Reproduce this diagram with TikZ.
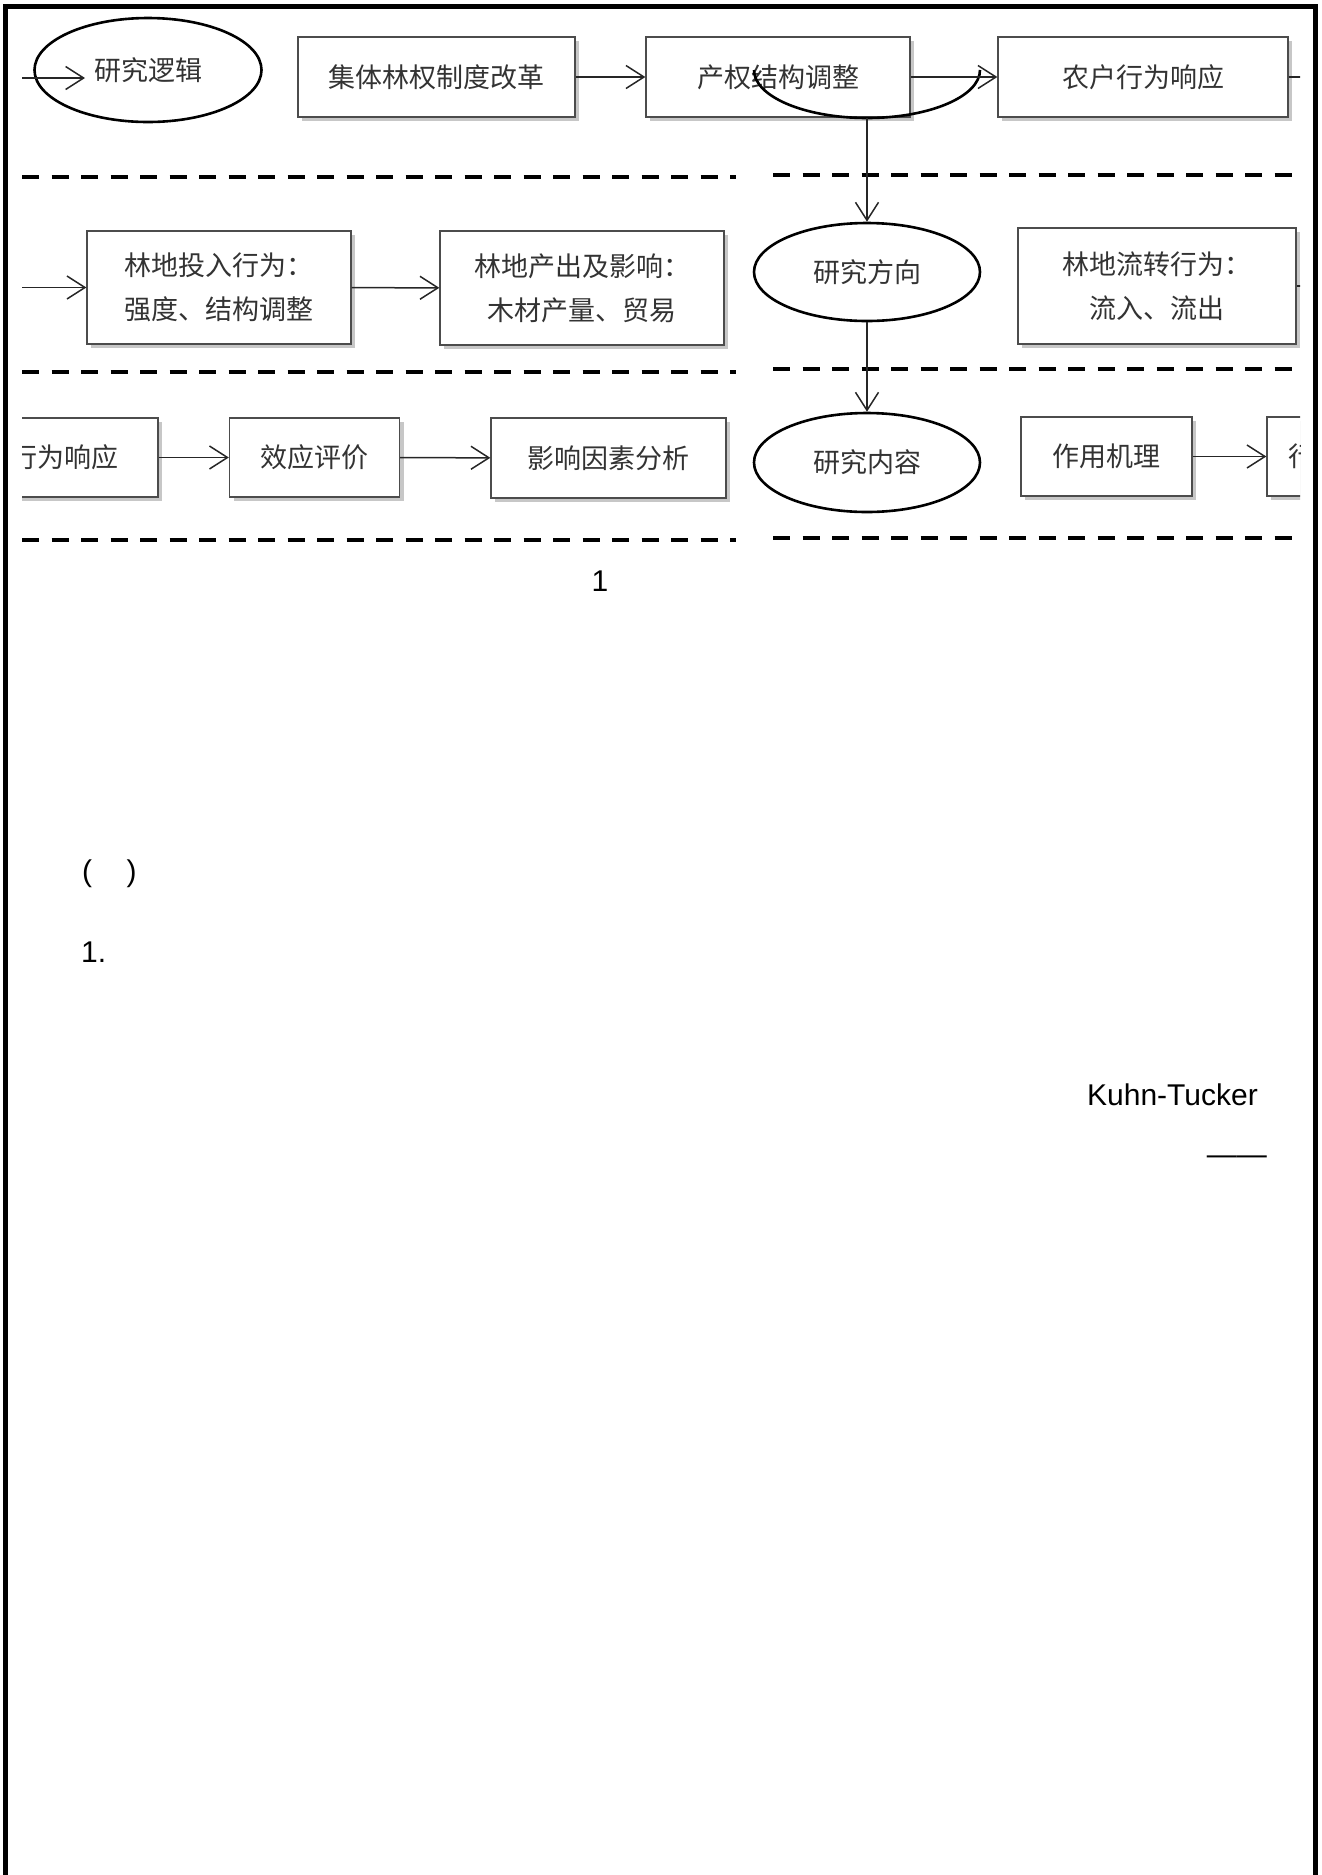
\documentclass[tikz,border=0pt]{standalone}
\usepackage{fontspec}
\setmainfont{Liberation Sans}
\newfontfamily\cjk{Noto Sans CJK SC}
\usetikzlibrary{arrows.meta,shapes.geometric,shadows}

\begin{document}
\begin{tikzpicture}[x=1pt, y=-1pt]
\tikzset{>={Straight Barb[length=18pt,width=23pt,line width=1.5pt]},
  box/.style={draw=black!70, line width=1.3pt, fill=white, inner sep=0pt,
    text=black!80, align=center, font=\cjk\fontsize{27pt}{44pt}\selectfont,
    drop shadow={shadow xshift=4pt, shadow yshift=-4pt, fill=black, opacity=.22}},
  cutbox/.style={box, align=left, text width=127pt, inner xsep=21pt},
  oval/.style={draw=black, line width=2.6pt, ellipse, inner sep=0pt, fill=white,
    text=black!80, font=\cjk\fontsize{27pt}{32pt}\selectfont},
  flow/.style={->, draw=black!85, line width=1.5pt},
  sep/.style={line width=4pt, dash pattern=on 17pt off 12.5pt},
  txt/.style={inner sep=0pt, font=\fontsize{30pt}{36pt}\selectfont}}
\useasboundingbox (0,0) rectangle (1322,1875);

% page frame
\draw[line width=5pt, line join=miter] (5.5,1875) -- (5.5,6.5) -- (1315,6.5) -- (1315,1875);

\begin{scope}
  \clip (22,0) rectangle (1300,600);

  % row 1: research logic
  \node[oval, minimum width=227pt, minimum height=104pt] (logic) at (148,70) {研究逻辑};
  \node[box, minimum width=277pt, minimum height=80pt] (reform) at (436.5,77) {集体林权制度改革};
  \node[box, minimum width=264pt, minimum height=80pt] (struct) at (778,77) {产权结构调整};
  \node[box, minimum width=290pt, minimum height=80pt] (farm) at (1143,77) {农户行为响应};
  \draw[line width=2.6pt] (754,70) arc[start angle=180, end angle=0, x radius=113, y radius=48];
  \coordinate (logicS) at (867,118);
  \coordinate (inA) at (-10,78);
  \coordinate (inAend) at (85,78);
  \coordinate (outA) at (1340,77);
  \draw[flow] (inA) -- (inAend);
  \draw[flow] (reform) -- (struct);
  \draw[flow] (struct) -- (farm);
  \draw[flow] (farm) -- (outA);

  \draw[sep] (22,177) -- (736,177);
  \draw[sep] (773,175) -- (1300,175);

  % row 2: research direction
  \node[box, minimum width=264pt, minimum height=113pt] (input) at (219,287.5) {林地投入行为：\\强度、结构调整};
  \node[box, minimum width=284pt, minimum height=114pt] (output) at (582,288) {林地产出及影响：\\木材产量、贸易};
  \node[oval, minimum width=226pt, minimum height=98pt] (dir) at (867,272) {研究方向};
  \node[box, minimum width=278pt, minimum height=116pt] (transfer) at (1157,286) {林地流转行为：\\流入、流出};
  \coordinate (inB) at (-10,287.5);
  \coordinate (outB) at (1340,286);
  \draw[flow] (inB) -- (input);
  \draw[flow] (input) -- (output);
  \draw[flow] (transfer) -- (outB);
  \draw[flow] (logicS) -- (dir);

  \draw[sep] (22,372) -- (736,372);
  \draw[sep] (773,369) -- (1300,369);

  % row 3: research content
  \node[cutbox, minimum height=79pt] (respL) at (73.5,457.5) {行为响应};
  \node[box, minimum width=170pt, minimum height=79pt] (effect) at (314.5,457.5) {效应评价};
  \node[box, minimum width=235pt, minimum height=80pt] (factor) at (608.5,458) {影响因素分析};
  \node[oval, minimum width=226pt, minimum height=99pt] (cont) at (867,462.5) {研究内容};
  \node[box, minimum width=171pt, minimum height=79pt] (mech) at (1106.5,456.5) {作用机理};
  \node[cutbox, minimum height=79pt] (respR) at (1351.5,456.5) {行为响应};
  \draw[flow] (respL) -- (effect);
  \draw[flow] (effect) -- (factor);
  \draw[flow] (mech) -- (respR);
  \draw[flow] (dir) -- (cont);

  \draw[sep] (22,540) -- (736,540);
  \draw[sep] (773,538) -- (1300,538);
\end{scope}

% running text
\node[txt] (fignum) at (600,581) {1};
\node[txt, anchor=west] (paren) at (82,874) {(\hspace{1.15em})};
\node[txt, anchor=west] (secone) at (81,952) {1.};
\node[txt, anchor=east] (kt) at (1258,1095) {Kuhn-Tucker};
\node[txt, anchor=east] (dashes) at (1267,1160) {——};
\end{tikzpicture}
\end{document}
